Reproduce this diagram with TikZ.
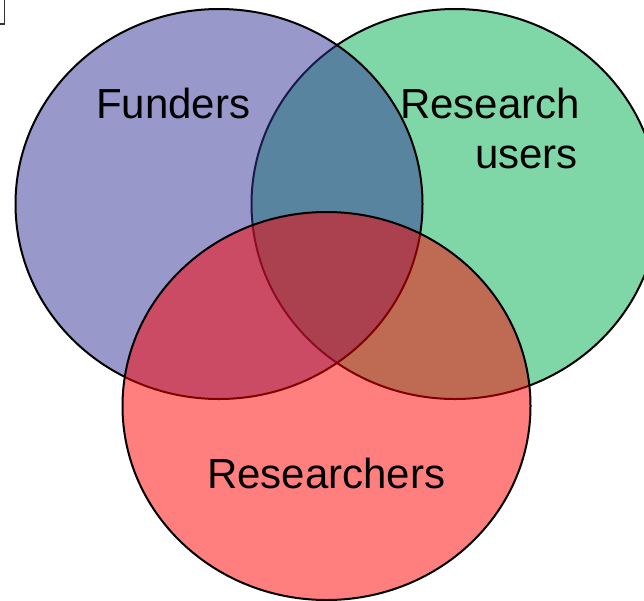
\documentclass[tikz,border=0pt]{standalone}
\usepackage{fontspec}
\setmainfont{Liberation Sans}
\definecolor{cgreen}{RGB}{0,176,80}
\definecolor{cblue}{RGB}{51,51,153}
\definecolor{cred}{RGB}{255,0,0}
\begin{document}
\begin{tikzpicture}[x=1pt,y=-1pt,
  venn/.style={draw=black,line width=2pt,fill opacity=0.5},
  lbl/.style={font=\fontsize{42}{50}\selectfont, inner sep=0pt}]
\useasboundingbox (0,0) rectangle (644,600);
\fill[white] (0,0) rectangle (644,600);
\begin{scope}
\clip (0,0) rectangle (644,600);
\path[venn, fill=cgreen] (455,204) ellipse [x radius=203.5pt, y radius=195pt];
\path[venn, fill=cblue] (219,204) ellipse [x radius=203.5pt, y radius=195pt];
\path[venn, fill=cred] (326.5,406) ellipse [x radius=204pt, y radius=194pt];
\end{scope}
\draw[line width=1.2pt, black!80] (0,24) -- (4.5,24) -- (4.5,0);
\node[lbl, anchor=base west] (funders) at (96,118) {Funders};
\node[lbl, anchor=base west] (research) at (400,118) {Research};
\node[lbl, anchor=base east] (users) at (578,168) {users};
\node[lbl, anchor=base west] (researchers) at (207,488) {Researchers};
\end{tikzpicture}
\end{document}
